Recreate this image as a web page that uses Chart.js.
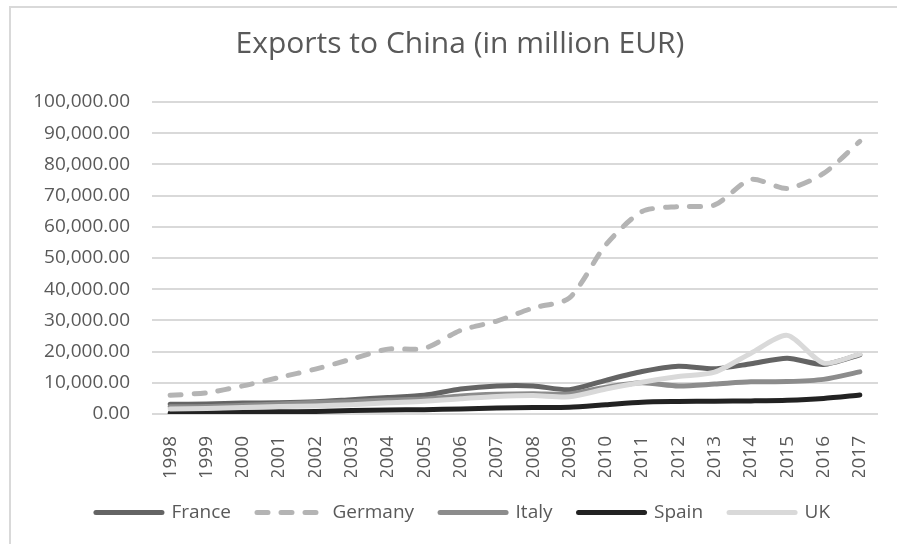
<!DOCTYPE html>
<html>
<head>
<meta charset="utf-8">
<script src="https://cdn.jsdelivr.net/npm/chart.js@4/dist/chart.umd.min.js"></script>
<style>
  html, body { margin: 0; padding: 0; background: #fff; }
  #frame { position: absolute; left: 9px; top: 6px; width: 1000px; height: 1000px; border: 2px solid #d9d9d9; }
  #wrap { position: absolute; left: 0; top: 0; width: 897px; height: 544px; }
</style>
</head>
<body>
<div id="frame"></div>
<div id="wrap"><canvas id="chart" width="897" height="544"></canvas></div>
<script>
// Exports to China, million EUR
const YEARS = ["1998", "1999", "2000", "2001", "2002", "2003", "2004", "2005", "2006", "2007",
  "2008", "2009", "2010", "2011", "2012", "2013", "2014", "2015", "2016", "2017"];

const FRANCE = [3100, 3200, 3500, 3600, 3900, 4600, 5300, 6000, 8000, 9000,
  9000, 7800, 10800, 13600, 15300, 14500, 16100, 17900, 15900, 19000];
const GERMANY = [6000, 6800, 9000, 11700, 14400, 17600, 20800, 21000, 26800, 29800,
  34000, 37200, 54200, 64900, 66500, 67000, 75200, 72300, 77100, 87400];
const ITALY = [2300, 2400, 2800, 3200, 3700, 4000, 4500, 4800, 5800, 6300,
  6500, 6400, 8600, 10000, 9000, 9600, 10300, 10400, 11100, 13500];
const SPAIN = [300, 400, 600, 700, 800, 1100, 1300, 1400, 1600, 1900,
  2100, 2200, 3000, 3800, 4000, 4100, 4200, 4400, 5000, 6100];
const UK = [1600, 1800, 2100, 2400, 2600, 3000, 3600, 4100, 4900, 5600,
  5900, 5500, 8000, 10200, 12000, 13400, 19500, 25200, 16300, 19200];

const TEXT = '#595959';
const FONT = "'Open Sans', sans-serif";
const LINE_W = 5;

function series(label, data, color, order, dash) {
  return {
    label: label,
    data: data,
    borderColor: color,
    backgroundColor: color,
    borderWidth: LINE_W,
    borderCapStyle: 'round',
    borderJoinStyle: 'round',
    borderDash: dash || [],
    pointRadius: 0,
    tension: 0.25,
    fill: false,
    order: order
  };
}

// title and legend sit a little right of the plot's centre in the original
const nudge = {
  id: 'nudge',
  afterLayout(chart) {
    chart.titleBlock.left += 14;
    chart.titleBlock.right += 14;
    chart.legend.left += 17;
    chart.legend.right += 17;
  }
};

new Chart(document.getElementById('chart').getContext('2d'), {
  type: 'line',
  data: {
    labels: YEARS,
    datasets: [
      series('France', FRANCE, '#646464', 5),
      series('Germany', GERMANY, '#b4b4b4', 4, [11, 13]),
      series('Italy', ITALY, '#8c8c8c', 3),
      series('Spain', SPAIN, '#222222', 2),
      series('UK', UK, '#d9d9d9', 1)
    ]
  },
  plugins: [nudge],
  options: {
    responsive: false,
    animation: false,
    layout: { padding: { left: 10, right: 15, top: 0, bottom: 12 } },
    scales: {
      x: {
        offset: true,
        grid: { display: false },
        border: { display: false },
        ticks: {
          color: TEXT,
          font: { family: FONT, size: 19 },
          minRotation: 90,
          maxRotation: 90,
          padding: 14,
          autoSkip: false
        },
        afterFit: (scale) => { scale.height = 63; }
      },
      y: {
        min: 0,
        max: 100000,
        grid: { color: '#d9d9d9', lineWidth: 2, drawTicks: false },
        border: { display: false },
        ticks: {
          stepSize: 10000,
          color: TEXT,
          padding: 22,
          font: { family: FONT, size: 19 },
          callback: (v) => v.toLocaleString('en-US', { minimumFractionDigits: 2, maximumFractionDigits: 2 })
        },
        afterFit: (scale) => { scale.width = 142; }
      }
    },
    plugins: {
      title: {
        display: true,
        text: 'Exports to China (in million EUR)',
        color: TEXT,
        font: { family: FONT, size: 30, weight: 'normal' },
        padding: { top: 26, bottom: 40 }
      },
      legend: {
        position: 'bottom',
        labels: {
          color: TEXT,
          font: { family: FONT, size: 19 },
          usePointStyle: true,
          pointStyle: 'line',
          pointStyleWidth: 66,
          padding: 26,
          generateLabels: (chart) => {
            const items = Chart.defaults.plugins.legend.labels.generateLabels(chart);
            items.forEach((it) => {
              const ds = chart.data.datasets[it.datasetIndex];
              it.strokeStyle = ds.borderColor;
              it.lineWidth = LINE_W;
              it.lineCap = 'round';
              it.lineDash = ds.borderDash;
            });
            return items;
          },
          sort: (a, b) => a.datasetIndex - b.datasetIndex
        }
      },
      tooltip: { enabled: false }
    }
  }
});
</script>
</body>
</html>
